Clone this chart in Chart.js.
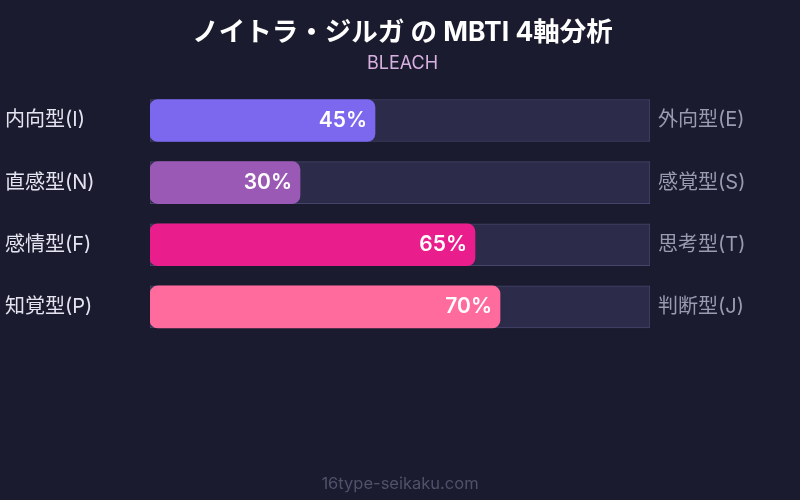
<!DOCTYPE html>
<html>
<head>
<meta charset="utf-8">
<script src="https://cdn.jsdelivr.net/npm/chart.js@4"></script>
<style>
  html, body { margin: 0; padding: 0; background: #1a1b2e; }
  #wrap { width: 800px; height: 500px; }
</style>
</head>
<body>
<div id="wrap"><canvas id="mbti"></canvas></div>
<script>
const leftLabels = ["内向型(I)", "直感型(N)", "感情型(F)", "知覚型(P)"];
const rightLabels = ["外向型(E)", "感覚型(S)", "思考型(T)", "判断型(J)"];
const values = [45, 30, 65, 70];
const trackValues = [100, 100, 100, 100];
const barColors = ["#7b68ee", "#9b59b6", "#e91e8c", "#ff6b9d"];

const FONT = "Inter, 'Noto Sans CJK JP', sans-serif";

// percentage text inside the end of each bar
const valueLabels = {
  id: "valueLabels",
  afterDatasetsDraw(chart) {
    const ctx = chart.ctx;
    const meta = chart.getDatasetMeta(1);
    ctx.save();
    ctx.font = "600 21px " + FONT;
    ctx.fillStyle = "#ffffff";
    ctx.textAlign = "right";
    ctx.textBaseline = "middle";
    meta.data.forEach((bar, i) => {
      ctx.fillText(values[i] + "%", bar.x - 8, bar.y);
    });
    ctx.restore();
  },
};

const footer = {
  id: "footer",
  afterDraw(chart) {
    const ctx = chart.ctx;
    ctx.save();
    ctx.font = "16.5px " + FONT;
    ctx.fillStyle = "#50516b";
    ctx.textAlign = "center";
    ctx.textBaseline = "middle";
    ctx.fillText("16type-seikaku.com", chart.width / 2, 484);
    ctx.restore();
  },
};

const data = {
  labels: leftLabels,
  datasets: [
    {
      data: trackValues,
      backgroundColor: "#2d2b4a",
      borderColor: "#46446a",
      borderWidth: 1,
      borderSkipped: false,
      barThickness: 42,
      grouped: false,
      order: 1,
    },
    {
      data: values,
      backgroundColor: barColors,
      borderRadius: 8,
      borderSkipped: false,
      barThickness: 42,
      grouped: false,
      order: 0,
    },
  ],
};

const config = {
  type: "bar",
  data: data,
  plugins: [valueLabels, footer],
  options: {
    indexAxis: "y",
    responsive: true,
    maintainAspectRatio: false,
    animation: false,
    layout: {
      padding: { left: 5, right: 0, top: 0, bottom: 162 },
    },
    plugins: {
      legend: { display: false },
      tooltip: { enabled: false },
      title: {
        display: true,
        text: "ノイトラ・ジルガ の MBTI 4軸分析",
        color: "#ffffff",
        font: { family: FONT, size: 26.5, weight: "bold" },
        padding: { top: 17, bottom: 4 },
      },
      subtitle: {
        display: true,
        text: "BLEACH",
        color: "#d8b0e0",
        font: { family: FONT, size: 18 },
        padding: { top: 0, bottom: 15 },
      },
    },
    scales: {
      x: {
        display: false,
        min: 0,
        max: 100,
      },
      y: {
        position: "left",
        grid: { display: false, drawTicks: false },
        border: { display: false },
        ticks: {
          color: "#e4e4f0",
          font: { family: FONT, size: 20 },
          crossAlign: "far",
          padding: 0,
        },
        afterFit(scale) {
          scale.width = 145;
        },
      },
      y2: {
        position: "right",
        labels: rightLabels,
        grid: { display: false, drawTicks: false },
        border: { display: false },
        ticks: {
          color: "#9a9ab0",
          font: { family: FONT, size: 20 },
          crossAlign: "near",
          padding: 8,
        },
        afterFit(scale) {
          scale.width = 150;
        },
      },
    },
  },
};

new Chart(document.getElementById("mbti"), config);
</script>
</body>
</html>
